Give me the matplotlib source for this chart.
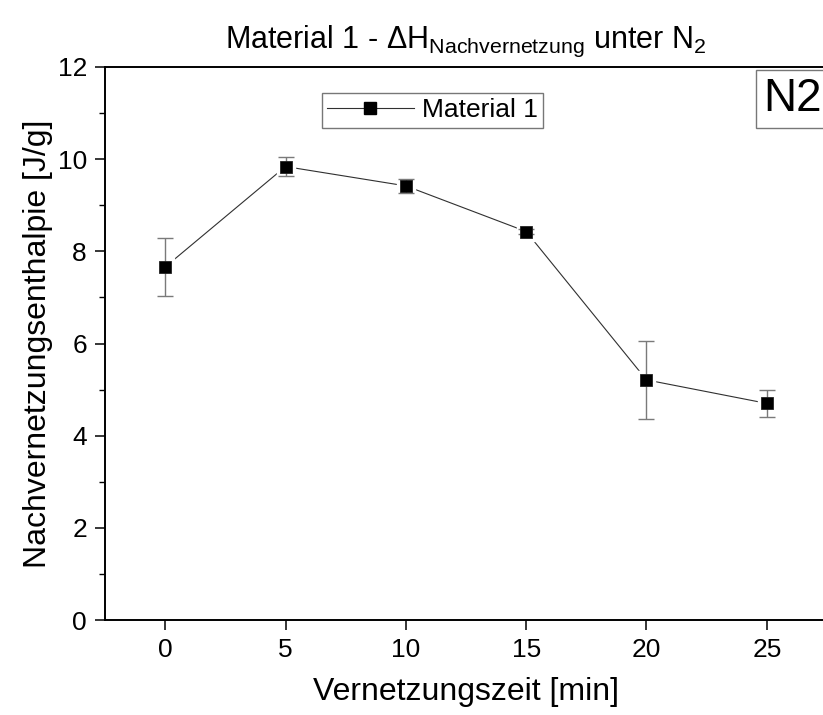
import matplotlib
matplotlib.use('Agg')
import matplotlib.pyplot as plt
from matplotlib.ticker import MultipleLocator

plt.rcParams['font.family'] = ['Liberation Sans', 'DejaVu Sans']
plt.rcParams['mathtext.fontset'] = 'custom'
plt.rcParams['mathtext.rm'] = 'Liberation Sans'
plt.rcParams['mathtext.it'] = 'Liberation Sans'

# Vernetzungszeit [min] vs. Nachvernetzungsenthalpie [J/g]
zeit = [0, 5, 10, 15, 20, 25]
enthalpie = [7.66, 9.84, 9.42, 8.43, 5.21, 4.70]
fehler = [0.64, 0.20, 0.15, 0.05, 0.85, 0.29]

fig = plt.figure(figsize=(8.23, 7.15), dpi=100)
ax = fig.add_axes([105/823, 1-620/715, 722/823, 553/715])

# line first, white squares leave a small gap round each point
ax.plot(zeit, enthalpie, color='#303030', lw=0.8, zorder=1)
ax.plot(zeit, enthalpie, ls='none', marker='s', ms=13, mfc='white', mec='white', zorder=2)
ax.errorbar(zeit, enthalpie, yerr=fehler, fmt='none', ecolor='#7a7a7a',
            elinewidth=1.0, capsize=5.5, capthick=1.0, zorder=3)
ax.plot(zeit, enthalpie, ls='none', marker='s', ms=8, mfc='black', mec='#222222',
        mew=0.6, zorder=4)

# legend entry
ax.plot([], [], color='#303030', lw=0.8, marker='s', ms=8, mfc='black', mec='black',
        label='Material 1')
leg = ax.legend(loc='upper left', bbox_to_anchor=(0.300, 0.953), fontsize=19,
                frameon=True, fancybox=False, edgecolor='#777777', framealpha=1,
                handlelength=3.3, handletextpad=0.3, borderpad=0.2,
                borderaxespad=0, numpoints=1)
leg.get_frame().set_linewidth(1.0)

ax.set_xlim(-2.5, 27.5)
ax.set_ylim(0, 12)
ax.xaxis.set_major_locator(MultipleLocator(5))
ax.yaxis.set_major_locator(MultipleLocator(2))
ax.yaxis.set_minor_locator(MultipleLocator(1))
ax.tick_params(axis='both', which='major', direction='out', length=7, width=1.1,
               labelsize=19, pad=6)
ax.tick_params(axis='y', which='minor', direction='out', length=4, width=1.0)
ax.tick_params(top=False, right=False)
for s in ax.spines.values():
    s.set_linewidth(1.4)
ax.spines['right'].set_visible(False)

ax.set_xlabel('Vernetzungszeit [min]', fontsize=23, labelpad=11)
ax.set_ylabel('Nachvernetzungsenthalpie [J/g]', fontsize=23, labelpad=3)
ax.set_title(r'Material 1 - $\Delta\mathrm{H}_{\mathrm{Nachvernetzung}}$ unter N$_2$',
             fontsize=22, pad=14)

ax.text(0.912, 0.982, 'N2', transform=ax.transAxes, fontsize=33, ha='left', va='top',
        bbox=dict(boxstyle='square,pad=0.16', fc='white', ec='#777777', lw=1.0))

fig.savefig('out.png', dpi=100)
